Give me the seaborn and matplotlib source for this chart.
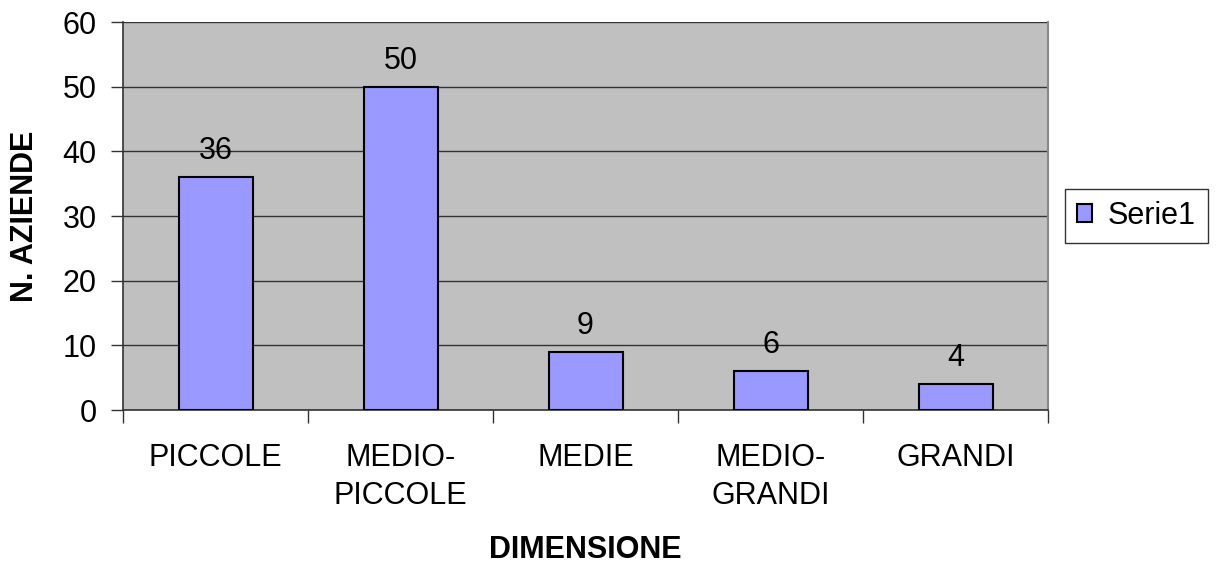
import matplotlib
matplotlib.use('Agg')
import matplotlib.pyplot as plt
import seaborn as sns
import pandas as pd
from matplotlib.ticker import FixedLocator

categorie = ['PICCOLE', 'MEDIO-\nPICCOLE', 'MEDIE', 'MEDIO-\nGRANDI', 'GRANDI']
n_aziende = [36, 50, 9, 6, 4]
serie = 'Serie1'

df = pd.DataFrame({'dimensione': categorie, 'aziende': n_aziende})

sns.set_style('white')
plt.rcParams['font.family'] = ['Liberation Sans', 'DejaVu Sans']
plt.rcParams['text.color'] = 'black'
plt.rcParams['axes.labelcolor'] = 'black'
plt.rcParams['xtick.color'] = 'black'
plt.rcParams['ytick.color'] = 'black'

fs = 22

fig = plt.figure(figsize=(12.16, 5.67), dpi=100)
ax = fig.add_axes([123/1216, 1 - 410/567, (1048 - 123)/1216, (410 - 22)/567])
ax.set_facecolor('#C0C0C0')

sns.barplot(data=df, x='dimensione', y='aziende', color='#9999FF', edgecolor='black',
            linewidth=1.5, width=0.4, saturation=1, label=serie, ax=ax, zorder=3)

# griglia orizzontale
ax.set_ylim(0, 60)
ax.set_yticks(range(0, 61, 10))
ax.yaxis.grid(True, color='#333333', linewidth=1)
ax.set_axisbelow(True)
ax.set_xlim(-0.5, len(categorie) - 0.5)

# etichette valori sopra le barre
for i, v in enumerate(n_aziende):
    ax.text(i, v + 4.0, str(v), ha='center', va='center', fontsize=fs)

# tick sull'asse x tra le categorie
ax.xaxis.set_minor_locator(FixedLocator([i - 0.5 for i in range(len(categorie) + 1)]))
ax.tick_params(axis='x', which='major', length=0, pad=24, labelsize=fs)
ax.tick_params(axis='x', which='minor', length=9, width=1, color='#333333', direction='out', bottom=True)
ax.tick_params(axis='y', length=9, width=1, color='#333333', direction='out', left=True, labelsize=fs, pad=10)
for t in ax.get_xticklabels():
    t.set_linespacing(1.35)

for s in ['left', 'bottom']:
    ax.spines[s].set_color('#333333')
    ax.spines[s].set_linewidth(1.2)
ax.spines['right'].set_color('#888888')
ax.spines['right'].set_linewidth(1.5)
ax.spines['top'].set_visible(False)

ax.set_xlabel('DIMENSIONE', fontsize=fs, fontweight='bold', labelpad=17)
ax.set_ylabel('N. AZIENDE', fontsize=fs, fontweight='bold', labelpad=16)

leg = ax.legend(loc='center left', bbox_to_anchor=(1.018, 0.5), fontsize=fs, frameon=True,
                fancybox=False, edgecolor='black', handlelength=0.5, handleheight=0.5,
                handletextpad=0.5, borderpad=0.4, borderaxespad=0)
leg.get_frame().set_linewidth(1)

fig.savefig('out.png', dpi=100)
